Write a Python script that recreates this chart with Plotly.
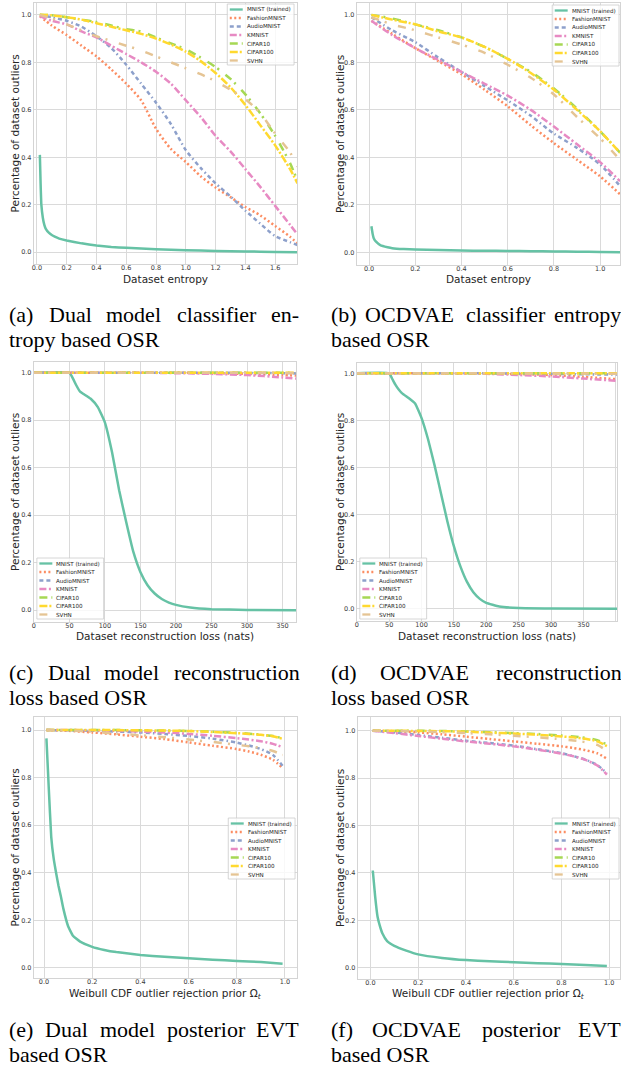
import plotly.graph_objects as go

# ---------------- data ----------------
SERIES = ["MNIST (trained)", "FashionMNIST", "AudioMNIST", "KMNIST", "CIFAR10", "CIFAR100", "SVHN"]
COLORS = ["#66c2a5", "#fc8d62", "#8da0cb", "#e78ac3", "#a6d854", "#ffd92f", "#e5c494"]
DASHES = ["solid", "2px,2.5px", "4px,3px,4px,3px,1.5px,3px", "7px,2.5px,2px,2.5px",
          "8px,4px,2px,8px", "8px,2px,2px,2px", "8px,6px,2px,12px"]

# (a) Dual model classifier entropy
A_X_MNIST = [0.02, 0.025, 0.03, 0.04, 0.05, 0.06, 0.08, 0.1, 0.12, 0.15, 0.2, 0.3, 0.4, 0.5, 0.6, 0.8, 1.0, 1.2, 1.4, 1.6, 1.75]
A_MNIST = [0.41, 0.29, 0.20, 0.145, 0.115, 0.098, 0.082, 0.072, 0.065, 0.057, 0.049, 0.037, 0.028, 0.022, 0.018, 0.012, 0.008, 0.005, 0.003, 0.001, 0.0]
A_X = [0.02, 0.1, 0.2, 0.3, 0.4, 0.5, 0.6, 0.7, 0.8, 0.9, 1.0, 1.1, 1.2, 1.3, 1.4, 1.5, 1.6, 1.7, 1.75]
A_FASHION = [0.995, 0.955, 0.915, 0.87, 0.825, 0.77, 0.71, 0.64, 0.52, 0.435, 0.38, 0.32, 0.272, 0.232, 0.19, 0.155, 0.11, 0.065, 0.035]
A_AUDIO = [1.0, 0.99, 0.975, 0.95, 0.91, 0.86, 0.79, 0.71, 0.63, 0.54, 0.43, 0.355, 0.29, 0.235, 0.175, 0.12, 0.068, 0.042, 0.03]
A_KMNIST = [0.995, 0.975, 0.96, 0.93, 0.905, 0.87, 0.835, 0.80, 0.76, 0.71, 0.64, 0.57, 0.49, 0.425, 0.35, 0.275, 0.195, 0.115, 0.075]
A_CIFAR10 = [1.0, 0.998, 0.99, 0.98, 0.97, 0.955, 0.94, 0.93, 0.905, 0.88, 0.855, 0.82, 0.78, 0.73, 0.665, 0.585, 0.49, 0.375, 0.30]
A_CIFAR100 = [1.0, 0.998, 0.99, 0.98, 0.965, 0.95, 0.935, 0.92, 0.90, 0.875, 0.845, 0.805, 0.755, 0.695, 0.62, 0.535, 0.45, 0.35, 0.29]
A_SVHN = [1.0, 0.985, 0.96, 0.935, 0.91, 0.89, 0.87, 0.85, 0.825, 0.80, 0.775, 0.75, 0.72, 0.685, 0.645, 0.585, 0.50, 0.42, 0.36]

# (b) OCDVAE classifier entropy
B_X_MNIST = [0.01, 0.015, 0.02, 0.03, 0.05, 0.08, 0.1, 0.15, 0.2, 0.3, 0.4, 0.5, 0.6, 0.7, 0.8, 0.9, 1.0, 1.086]
B_MNIST = [0.11, 0.08, 0.06, 0.045, 0.03, 0.022, 0.018, 0.014, 0.012, 0.010, 0.008, 0.007, 0.006, 0.005, 0.004, 0.003, 0.002, 0.001]
B_X = [0.01, 0.1, 0.2, 0.3, 0.4, 0.5, 0.6, 0.7, 0.8, 0.9, 1.0, 1.086]
B_FASHION = [0.975, 0.92, 0.86, 0.805, 0.75, 0.685, 0.615, 0.535, 0.46, 0.39, 0.32, 0.245]
B_AUDIO = [0.99, 0.935, 0.885, 0.82, 0.76, 0.70, 0.64, 0.575, 0.50, 0.44, 0.37, 0.28]
B_KMNIST = [0.975, 0.915, 0.86, 0.81, 0.76, 0.71, 0.66, 0.60, 0.53, 0.455, 0.38, 0.30]
B_CIFAR10 = [1.0, 0.985, 0.96, 0.935, 0.905, 0.865, 0.815, 0.76, 0.69, 0.605, 0.51, 0.42]
B_CIFAR100 = [1.0, 0.98, 0.96, 0.93, 0.905, 0.865, 0.815, 0.755, 0.685, 0.60, 0.51, 0.42]
B_SVHN = [0.99, 0.96, 0.935, 0.905, 0.875, 0.84, 0.79, 0.735, 0.665, 0.57, 0.48, 0.39]

# (c) Dual model reconstruction loss
C_X_MNIST = [0, 50, 55, 60, 65, 70, 80, 90, 100, 110, 120, 130, 140, 150, 160, 170, 180, 190, 200, 220, 250, 300, 369]
C_MNIST = [1.0, 1.0, 0.975, 0.945, 0.92, 0.91, 0.89, 0.855, 0.79, 0.665, 0.505, 0.37, 0.245, 0.16, 0.105, 0.07, 0.047, 0.032, 0.022, 0.011, 0.004, 0.001, 0.0]
C_X = [0, 50, 100, 150, 200, 250, 300, 350, 369]
C_FASHION = [1.0, 1.0, 1.0, 1.0, 1.0, 0.998, 0.995, 0.99, 0.988]
C_AUDIO = [1.0, 1.0, 1.0, 1.0, 1.0, 1.0, 0.999, 0.998, 0.997]
C_KMNIST = [1.0, 1.0, 1.0, 1.0, 0.998, 0.995, 0.99, 0.98, 0.975]
C_CIFAR10 = [1.0, 1.0, 1.0, 1.0, 1.0, 1.0, 1.0, 1.0, 1.0]
C_CIFAR100 = [1.0, 1.0, 1.0, 1.0, 1.0, 1.0, 1.0, 1.0, 1.0]
C_SVHN = [1.0, 1.0, 1.0, 1.0, 1.0, 1.0, 1.0, 0.999, 0.998]

# (d) OCDVAE reconstruction loss
D_X_MNIST = [0, 50, 55, 60, 65, 70, 80, 90, 100, 110, 120, 130, 140, 150, 160, 170, 180, 190, 200, 220, 250, 300, 402]
D_MNIST = [1.0, 1.0, 0.975, 0.95, 0.93, 0.915, 0.895, 0.872, 0.81, 0.72, 0.61, 0.49, 0.37, 0.265, 0.18, 0.115, 0.07, 0.042, 0.025, 0.01, 0.003, 0.001, 0.0]
D_X = [0, 50, 100, 150, 200, 250, 300, 350, 402]
D_FASHION = [1.0, 1.0, 1.0, 1.0, 0.999, 0.997, 0.993, 0.985, 0.975]
D_AUDIO = [1.0, 1.0, 1.0, 1.0, 1.0, 0.999, 0.998, 0.996, 0.995]
D_KMNIST = [1.0, 1.0, 1.0, 1.0, 0.998, 0.993, 0.987, 0.978, 0.968]
D_CIFAR10 = [1.0, 1.0, 1.0, 1.0, 1.0, 1.0, 1.0, 1.0, 1.0]
D_CIFAR100 = [1.0, 1.0, 1.0, 1.0, 1.0, 1.0, 1.0, 1.0, 1.0]
D_SVHN = [1.0, 1.0, 1.0, 1.0, 1.0, 1.0, 0.999, 0.999, 0.998]

# (e) Dual model posterior EVT
E_X_MNIST = [0.01, 0.02, 0.03, 0.04, 0.05, 0.06, 0.07, 0.08, 0.1, 0.12, 0.15, 0.2, 0.25, 0.3, 0.4, 0.5, 0.6, 0.7, 0.8, 0.9, 0.99]
E_MNIST = [0.965, 0.75, 0.55, 0.46, 0.40, 0.345, 0.30, 0.25, 0.175, 0.135, 0.11, 0.088, 0.075, 0.066, 0.054, 0.046, 0.04, 0.034, 0.029, 0.024, 0.017]
E_X = [0.01, 0.1, 0.2, 0.3, 0.4, 0.5, 0.6, 0.7, 0.8, 0.85, 0.9, 0.95, 0.99]
E_FASHION = [1.0, 0.997, 0.99, 0.982, 0.972, 0.962, 0.948, 0.934, 0.92, 0.91, 0.896, 0.875, 0.84]
E_AUDIO = [1.0, 0.999, 0.997, 0.994, 0.99, 0.984, 0.975, 0.964, 0.947, 0.935, 0.92, 0.895, 0.85]
E_KMNIST = [1.0, 1.0, 0.999, 0.997, 0.994, 0.99, 0.984, 0.976, 0.966, 0.96, 0.953, 0.942, 0.928]
E_CIFAR10 = [1.0, 1.0, 1.0, 1.0, 0.999, 0.998, 0.996, 0.993, 0.988, 0.985, 0.981, 0.975, 0.965]
E_CIFAR100 = [1.0, 1.0, 1.0, 1.0, 0.999, 0.998, 0.996, 0.992, 0.987, 0.984, 0.98, 0.974, 0.963]
E_SVHN = [1.0, 0.998, 0.993, 0.985, 0.978, 0.97, 0.96, 0.95, 0.938, 0.932, 0.924, 0.912, 0.895]

# (f) OCDVAE posterior EVT
F_X_MNIST = [0.01, 0.02, 0.03, 0.04, 0.05, 0.07, 0.1, 0.15, 0.2, 0.3, 0.4, 0.5, 0.6, 0.7, 0.8, 0.9, 0.99]
F_MNIST = [0.41, 0.30, 0.215, 0.175, 0.145, 0.112, 0.092, 0.072, 0.056, 0.041, 0.032, 0.027, 0.023, 0.019, 0.015, 0.011, 0.007]
F_X = [0.01, 0.1, 0.2, 0.3, 0.4, 0.5, 0.6, 0.7, 0.8, 0.85, 0.9, 0.95, 0.99]
F_FASHION = [1.0, 0.998, 0.993, 0.985, 0.975, 0.965, 0.955, 0.945, 0.934, 0.927, 0.918, 0.905, 0.882]
F_AUDIO = [1.0, 0.993, 0.982, 0.97, 0.958, 0.948, 0.937, 0.922, 0.905, 0.893, 0.878, 0.855, 0.82]
F_KMNIST = [1.0, 0.99, 0.978, 0.966, 0.955, 0.945, 0.934, 0.92, 0.903, 0.892, 0.877, 0.853, 0.815]
F_CIFAR10 = [1.0, 1.0, 1.0, 0.999, 0.997, 0.994, 0.99, 0.986, 0.98, 0.976, 0.97, 0.96, 0.942]
F_CIFAR100 = [1.0, 1.0, 0.999, 0.998, 0.996, 0.992, 0.988, 0.983, 0.976, 0.972, 0.966, 0.955, 0.935]
F_SVHN = [1.0, 0.999, 0.997, 0.994, 0.99, 0.985, 0.979, 0.972, 0.964, 0.959, 0.952, 0.94, 0.915]

X_TITLES = ["Dataset entropy", "Dataset entropy",
            "Dataset reconstruction loss (nats)", "Dataset reconstruction loss (nats)",
            "Weibull CDF outlier rejection prior Ω<sub><i>t</i></sub>",
            "Weibull CDF outlier rejection prior Ω<sub><i>t</i></sub>"]
Y_TITLE = "Percentage of dataset outliers"
CAPTIONS = [
    ("(a) Dual model classifier en-", "tropy based OSR"),
    ("(b) OCDVAE classifier entropy", "based OSR"),
    ("(c) Dual model reconstruction", "loss based OSR"),
    ("(d) OCDVAE reconstruction", "loss based OSR"),
    ("(e) Dual model posterior EVT", "based OSR"),
    ("(f) OCDVAE posterior EVT", "based OSR"),
]
X_TICKS = [
    [0.0, 0.2, 0.4, 0.6, 0.8, 1.0, 1.2, 1.4, 1.6],
    [0.0, 0.2, 0.4, 0.6, 0.8, 1.0],
    [0, 50, 100, 150, 200, 250, 300, 350],
    [0, 50, 100, 150, 200, 250, 300, 350, 400],
    [0.0, 0.2, 0.4, 0.6, 0.8, 1.0],
    [0.0, 0.2, 0.4, 0.6, 0.8, 1.0],
]
Y_TICKS = [0.0, 0.2, 0.4, 0.6, 0.8, 1.0]

PANEL_DATA = [
    (A_X_MNIST, A_MNIST, A_X, [A_FASHION, A_AUDIO, A_KMNIST, A_CIFAR10, A_CIFAR100, A_SVHN]),
    (B_X_MNIST, B_MNIST, B_X, [B_FASHION, B_AUDIO, B_KMNIST, B_CIFAR10, B_CIFAR100, B_SVHN]),
    (C_X_MNIST, C_MNIST, C_X, [C_FASHION, C_AUDIO, C_KMNIST, C_CIFAR10, C_CIFAR100, C_SVHN]),
    (D_X_MNIST, D_MNIST, D_X, [D_FASHION, D_AUDIO, D_KMNIST, D_CIFAR10, D_CIFAR100, D_SVHN]),
    (E_X_MNIST, E_MNIST, E_X, [E_FASHION, E_AUDIO, E_KMNIST, E_CIFAR10, E_CIFAR100, E_SVHN]),
    (F_X_MNIST, F_MNIST, F_X, [F_FASHION, F_AUDIO, F_KMNIST, F_CIFAR10, F_CIFAR100, F_SVHN]),
]

# ---------------- layout geometry (px) ----------------
W, H = 621, 1070
# plot frames: (left, right, top, bottom)
FRAMES = [(32, 296, 3, 264), (356, 620, 3, 265),
          (32, 295, 362, 622), (356, 617, 363, 621),
          (32, 296, 717, 978), (357, 620, 717, 979)]
X_RANGES = [[-0.02, 1.747], [-0.053, 1.086], [0, 369], [0, 402], [-0.042, 1.05], [-0.0525, 1.045]]
Y_RANGES = [[-0.05, 1.05], [-0.053, 1.05], [-0.05, 1.045], [-0.052, 1.044], [-0.043, 1.055], [-0.048, 1.058]]
X_FORMATS = [".1f", ".1f", "d", "d", ".1f", ".1f"]
XTITLE_Y = [279, 279, 636, 636, 994, 994]
YTITLE_X = [13, 339, 13, 339, 13, 339]
LEGEND_BOX = [(226, 4), (552, 5), (35, 558), (359, 558), (227, 818), (552, 818)]
CAPTION_LEFT = [7, 330, 7, 330, 7, 330]
CAPTION_BASE = [322, 322, 680, 680, 1037, 1037]
CAPTION_W = 291
CAP_FS = 22

TEXT = "#262626"
SANS = "DejaVu Sans"
SERIF = "Liberation Serif, Times New Roman, serif"


def px(x):
    return x / W


def py(y):
    return 1 - y / H


TIMES_W = {' ': 250, '(': 333, ')': 333, '-': 333,
           'a': 444, 'b': 500, 'c': 444, 'd': 500, 'e': 444, 'f': 333, 'g': 500, 'h': 500,
           'i': 278, 'j': 278, 'k': 500, 'l': 278, 'm': 778, 'n': 500, 'o': 500, 'p': 500,
           'q': 500, 'r': 333, 's': 389, 't': 278, 'u': 500, 'v': 500, 'w': 722, 'x': 500,
           'y': 500, 'z': 444,
           'A': 722, 'B': 667, 'C': 667, 'D': 722, 'E': 611, 'F': 556, 'G': 722, 'H': 722,
           'I': 333, 'J': 389, 'K': 722, 'L': 611, 'M': 889, 'N': 722, 'O': 722, 'P': 556,
           'Q': 722, 'R': 667, 'S': 556, 'T': 611, 'U': 722, 'V': 722, 'W': 944, 'X': 722,
           'Y': 722, 'Z': 611}


def tw(s, fs):
    return sum(TIMES_W.get(c, 500) for c in s) / 1000.0 * fs


fig = go.Figure()
shapes = []
annotations = []
layout = {}

for i, (xm, ym, xs, ys_list) in enumerate(PANEL_DATA):
    n = "" if i == 0 else str(i + 1)
    xa, ya = "x" + n, "y" + n
    l, r, t, b = FRAMES[i]
    axis_common = dict(showgrid=True, gridcolor="#dadada", gridwidth=1.2,
                       showline=True, mirror=True, linecolor="#d4d4d4", linewidth=1.2,
                       zeroline=False, ticks="", tickfont=dict(family=SANS, size=6.5, color="#3a3a3a"))
    layout["xaxis" + n] = dict(domain=[px(l), px(r)], range=X_RANGES[i], anchor=ya,
                               tickmode="array", tickvals=X_TICKS[i], tickformat=X_FORMATS[i],
                               ticklabelstandoff=-3, **axis_common)
    layout["yaxis" + n] = dict(domain=[py(b), py(t)], range=Y_RANGES[i], anchor=xa,
                               tickmode="array", tickvals=Y_TICKS, tickformat=".1f",
                               **axis_common)
    # traces
    all_x = [xm] + [xs] * 6
    all_y = [ym] + ys_list
    for k in range(7):
        fig.add_trace(go.Scatter(x=all_x[k], y=all_y[k], mode="lines", name=SERIES[k],
                                 showlegend=False, xaxis=xa, yaxis=ya,
                                 line=dict(color=COLORS[k], width=2.5, dash=DASHES[k],
                                           shape="spline", smoothing=0.35 if k == 0 else 0.7)))
    # axis titles
    annotations.append(dict(text=X_TITLES[i], xref="paper", yref="paper",
                            x=px((l + r) / 2), y=py(XTITLE_Y[i]), xanchor="center", yanchor="middle",
                            showarrow=False, font=dict(family=SANS, size=10.5, color=TEXT),
                            borderpad=0, borderwidth=0))
    annotations.append(dict(text=Y_TITLE, xref="paper", yref="paper", textangle=-90,
                            x=px(YTITLE_X[i]), y=py((t + b) / 2), xanchor="center", yanchor="middle",
                            showarrow=False, font=dict(family=SANS, size=10.5, color=TEXT),
                            borderpad=0, borderwidth=0))
    # legend (drawn manually to match compact matplotlib legend)
    bx, by = LEGEND_BOX[i]
    bw, bh = 67, 61
    shapes.append(dict(type="rect", xref="paper", yref="paper",
                       x0=px(bx), x1=px(bx + bw), y0=py(by + bh), y1=py(by),
                       fillcolor="rgba(255,255,255,0.8)", line=dict(color="#cccccc", width=0.8)))
    for k in range(7):
        ry = by + 5.5 + k * 8.5
        shapes.append(dict(type="line", xref="paper", yref="paper",
                           x0=px(bx + 2.5), x1=px(bx + 15.5), y0=py(ry), y1=py(ry),
                           line=dict(color=COLORS[k], width=2.3, dash=DASHES[k])))
        annotations.append(dict(text=SERIES[k], xref="paper", yref="paper",
                                x=px(bx + 19.5), y=py(ry), xanchor="left", yanchor="middle",
                                showarrow=False, font=dict(family=SANS, size=5.6, color=TEXT),
                                borderpad=0, borderwidth=0))
    # caption (justified first line, left-aligned second line)
    line1, line2 = CAPTIONS[i]
    words = line1.split(" ")
    widths = [tw(w_, CAP_FS) for w_ in words]
    gap = (CAPTION_W - sum(widths)) / (len(words) - 1)
    cx = CAPTION_LEFT[i]
    yc1 = CAPTION_BASE[i] - 0.3375 * CAP_FS
    for w_, ww in zip(words, widths):
        annotations.append(dict(text=w_, xref="paper", yref="paper",
                                x=px(cx), y=py(yc1), xanchor="left", yanchor="middle",
                                showarrow=False, font=dict(family=SERIF, size=CAP_FS, color="#000000"),
                                borderpad=0, borderwidth=0))
        cx += ww + gap
    yc2 = CAPTION_BASE[i] + 24.5 - 0.3375 * CAP_FS
    annotations.append(dict(text=line2, xref="paper", yref="paper",
                            x=px(CAPTION_LEFT[i]), y=py(yc2), xanchor="left", yanchor="middle",
                            showarrow=False, font=dict(family=SERIF, size=CAP_FS, color="#000000"),
                            borderpad=0, borderwidth=0))

fig.update_layout(width=W, height=H, margin=dict(l=0, r=0, t=0, b=0),
                  paper_bgcolor="white", plot_bgcolor="white", showlegend=False,
                  shapes=shapes, annotations=annotations, **layout)

fig.write_html("out.html", config={"displayModeBar": False})
